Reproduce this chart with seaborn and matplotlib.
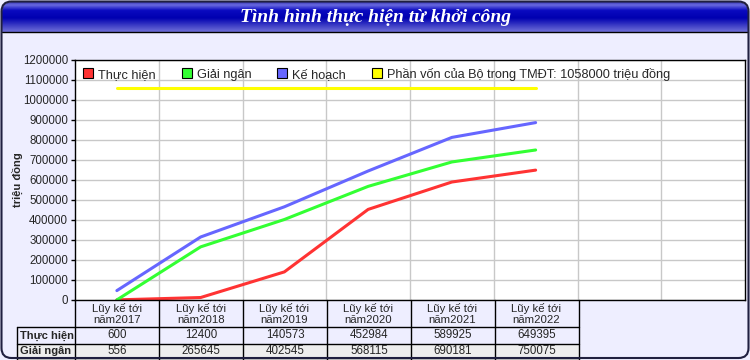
import numpy as np
import pandas as pd
import matplotlib
matplotlib.use("Agg")
import matplotlib.pyplot as plt
import seaborn as sns
from matplotlib.lines import Line2D
from matplotlib.patches import FancyBboxPatch, Rectangle
from matplotlib.colors import LinearSegmentedColormap

# data
nam = ["2017", "2018", "2019", "2020", "2021", "2022"]
thuc_hien = [600, 12400, 140573, 452984, 589925, 649395]
giai_ngan = [556, 265645, 402545, 568115, 690181, 750075]
ke_hoach = [47000, 315000, 466000, 645000, 813000, 887000]
phan_von = 1058000

series_names = ["Thực hiện", "Giải ngân", "Kế hoạch",
                "Phần vốn của Bộ trong TMĐT: 1058000 triệu đồng"]
colors = ["#FF3333", "#33FF33", "#6666FF", "#FFFF00"]
xlabels = ["Lũy kế tới\nnăm" + n for n in nam]

rows = []
for i in range(len(nam)):
    rows.append((i, thuc_hien[i], series_names[0]))
    rows.append((i, giai_ngan[i], series_names[1]))
    rows.append((i, ke_hoach[i], series_names[2]))
    rows.append((i, phan_von, series_names[3]))
df = pd.DataFrame(rows, columns=["x", "val", "series"])

sns.set_style("white")
plt.rcParams['font.family'] = ['Liberation Sans', 'DejaVu Sans']

BG = "#EEEEFF"
fig = plt.figure(figsize=(7.5, 3.6), dpi=100, facecolor=BG)

# main plot area, pixel layout
L, T, R, B = 75, 60, 745, 300
ax = fig.add_axes([L / 750, (360 - B) / 360, (R - L) / 750, (B - T) / 360])
ax.set_facecolor("white")

sns.lineplot(data=df, x="x", y="val", hue="series", hue_order=series_names,
             palette=colors, linewidth=2.2, ax=ax, legend=False)

ax.set_xlim(-0.5, 7.5)
ax.set_ylim(0, 1200000)
ax.set_yticks(np.arange(0, 1200001, 100000))
ax.set_yticklabels([str(v) for v in range(0, 1200001, 100000)], fontsize=8.3)
ax.set_xticks(range(len(nam)))
ax.set_xticklabels(xlabels, fontsize=8.2, linespacing=1.15)
ax.set_xticks(np.arange(0.5, 7.5, 1), minor=True)
ax.tick_params(axis="x", which="both", length=0, pad=2)
ax.tick_params(axis="y", length=3, width=1, color="black", pad=2, left=True)
ax.grid(True, which="major", axis="y", color="#C8C8C8", linewidth=1)
ax.grid(True, which="minor", axis="x", color="#C8C8C8", linewidth=1)
ax.set_axisbelow(True)
ax.set_xlabel("")
ax.set_ylabel("")
for s in ax.spines.values():
    s.set_color("black")
    s.set_linewidth(1)

handles = [Line2D([], [], marker="s", ls="", markerfacecolor=c,
                  markeredgecolor="black", markeredgewidth=0.8, markersize=7)
           for c in colors]
ax.legend(handles, series_names, loc="upper left", bbox_to_anchor=(0.0, 1.0),
          ncol=4, frameon=False, fontsize=9.2, handlelength=0.9,
          handletextpad=0.3, columnspacing=2.0, borderaxespad=0.2)

fig.text(17 / 750, 1 - 180 / 360, "triệu đồng", rotation=90, fontsize=8,
         fontweight="bold", ha="center", va="center")

# overlay: title bar, border, table
ov = fig.add_axes([0, 0, 1, 1])
ov.set_xlim(0, 750)
ov.set_ylim(360, 0)
ov.axis("off")
ov.patch.set_alpha(0)

cmap = LinearSegmentedColormap.from_list("bar", [
    (0.0, "#2a2aa8"), (0.12, "#6a6ae0"), (0.3, "#0a0ac0"),
    (0.55, "#0000b0"), (1.0, "#7070d8")])
grad = np.linspace(0, 1, 64).reshape(-1, 1)
clip = FancyBboxPatch((2, 2), 746, 60, boxstyle="round,pad=0,rounding_size=10",
                      transform=ov.transData, facecolor="none", edgecolor="none")
ov.add_patch(clip)
im = ov.imshow(grad, cmap=cmap, aspect="auto", extent=[2, 748, 32, 1],
               origin="upper", zorder=1)
im.set_clip_path(clip)
ov.plot([2, 748], [32, 32], color="black", lw=1, zorder=2)
ov.text(375, 17, "Tình hình thực hiện từ khởi công", color="white",
        fontsize=14, fontstyle="italic", fontweight="bold",
        family=["Liberation Serif", "DejaVu Serif"], ha="center", va="center", zorder=3)

# table
col_w = 84
cols_x = [L + col_w * k for k in range(len(nam) + 1)]
ov.add_patch(Rectangle((17, 344), cols_x[-1] - 17, 20, facecolor="#EEEEEE",
                       edgecolor="none", zorder=1))
for xk in cols_x:
    ov.plot([xk, xk], [B, 362], color="black", lw=1, zorder=2)
ov.plot([17, 17], [327, 362], color="black", lw=1, zorder=2)
for yk in [327, 344, 358]:
    ov.plot([17, cols_x[-1]], [yk, yk], color="black", lw=1, zorder=2)
table_rows = [("Thực hiện", thuc_hien, 335.5), ("Giải ngân", giai_ngan, 351.5)]
for label, vals, yc in table_rows:
    ov.text(20, yc, label, fontsize=8, fontweight="bold", ha="left",
            va="center", zorder=3)
    for k, v in enumerate(vals):
        ov.text(L + col_w * k + col_w / 2, yc, str(v), fontsize=8.3,
                ha="center", va="center", zorder=3)

border = FancyBboxPatch((1.5, 1.5), 747, 356.5,
                        boxstyle="round,pad=0,rounding_size=10",
                        facecolor="none", edgecolor="#202040", lw=1.5, zorder=4)
ov.add_patch(border)

fig.savefig("out.png", dpi=100, facecolor=BG)
